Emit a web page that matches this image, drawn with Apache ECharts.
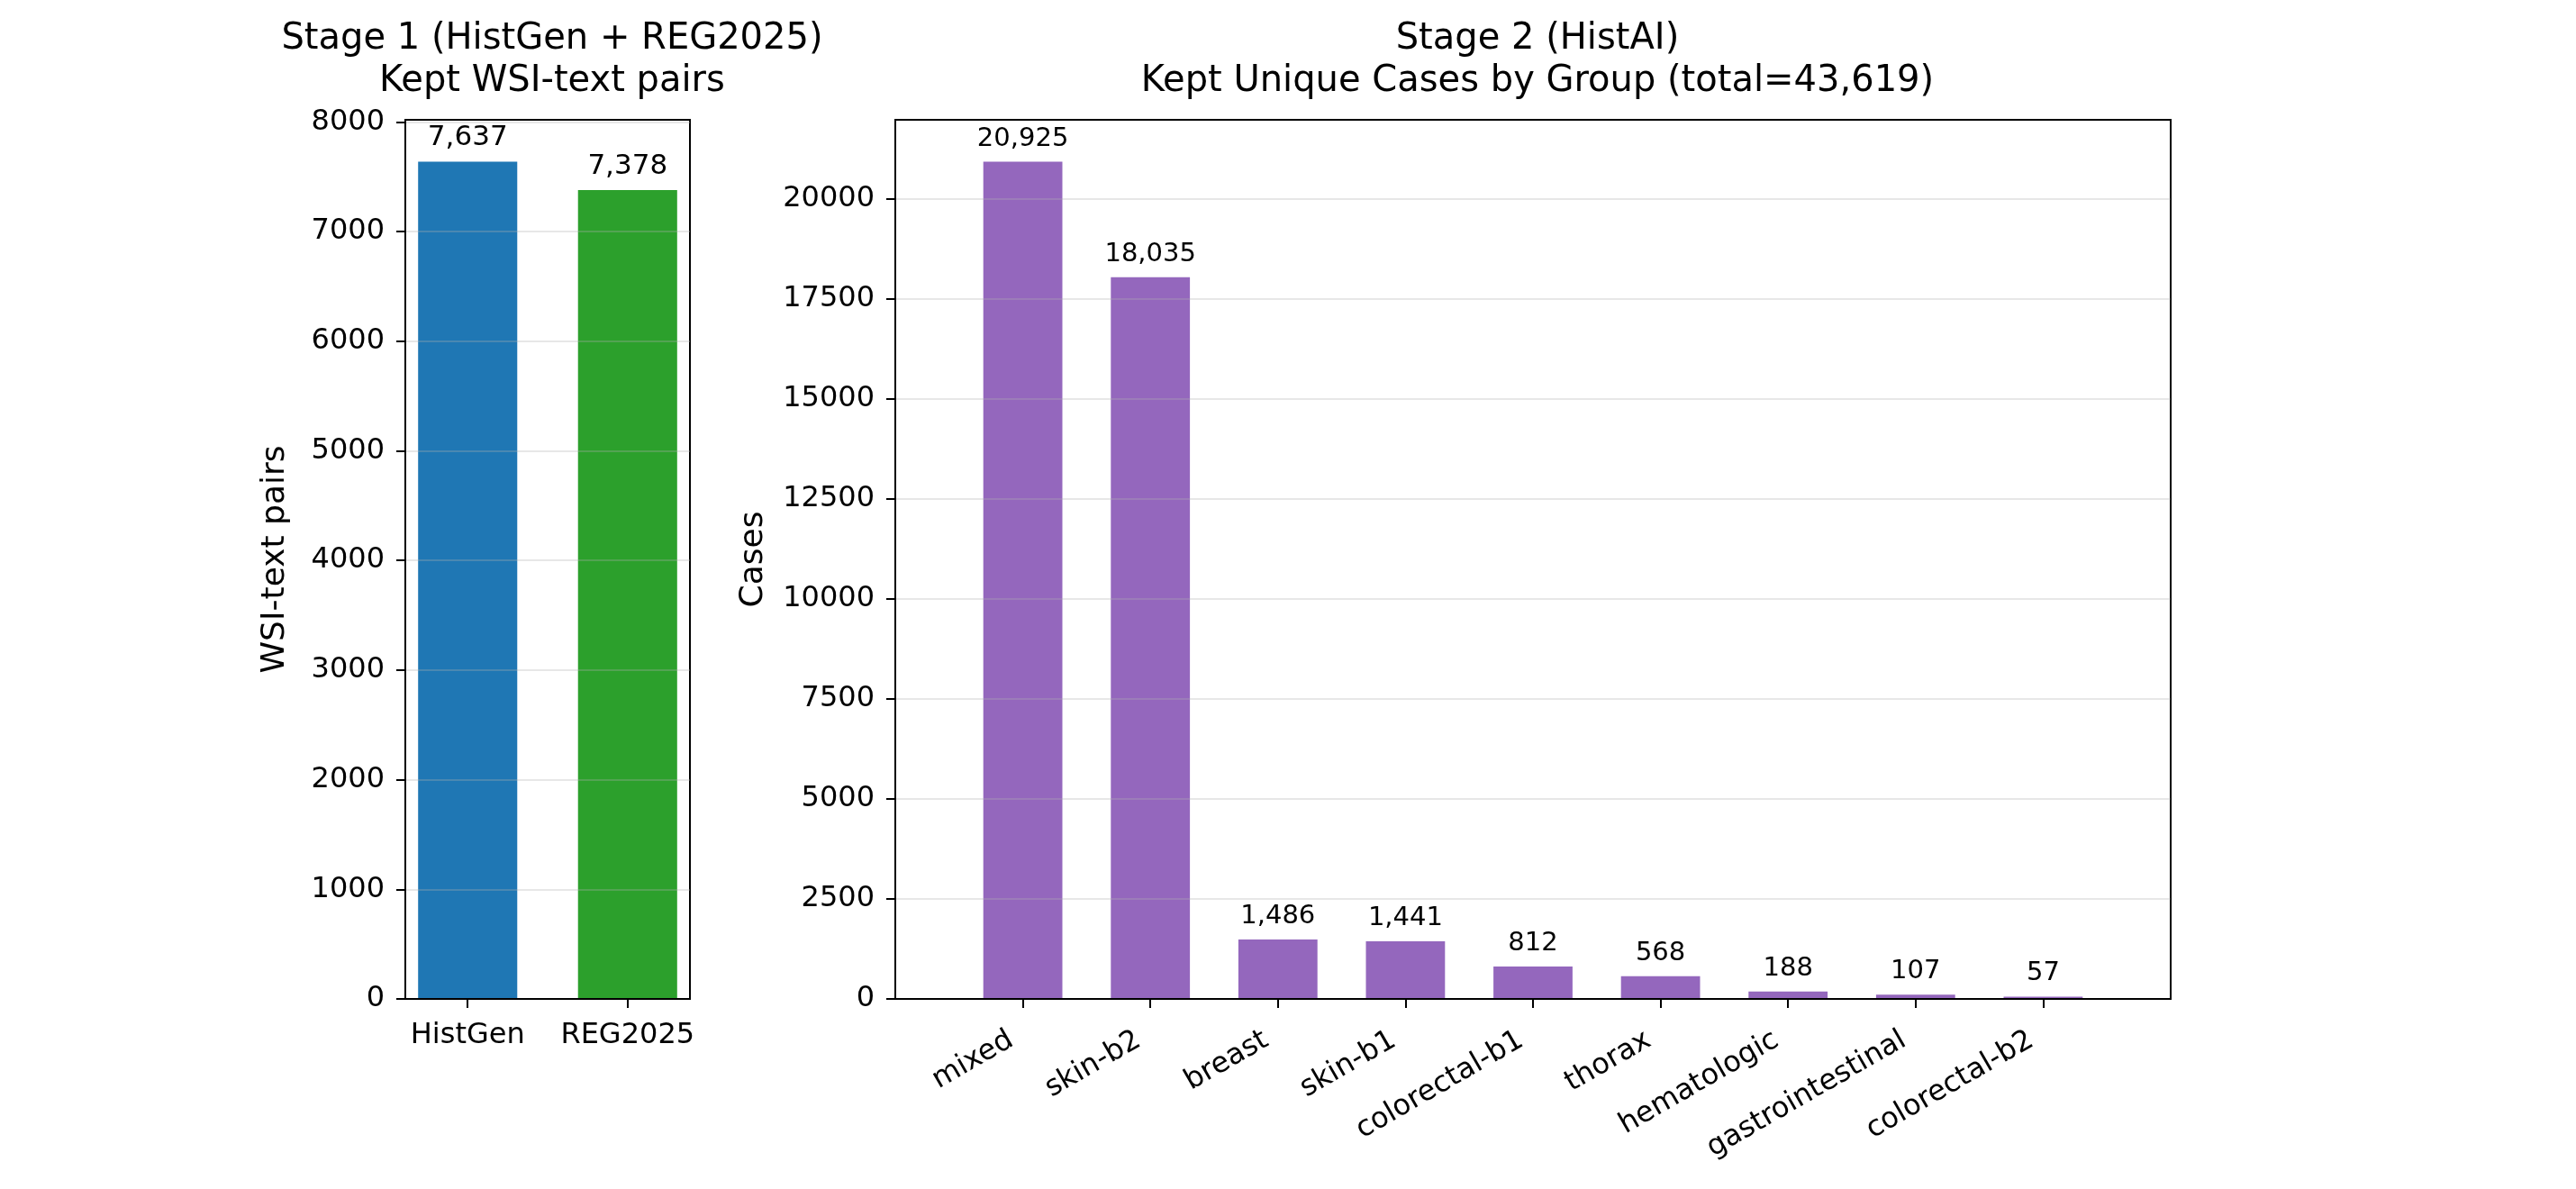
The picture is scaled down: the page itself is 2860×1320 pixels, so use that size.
<!DOCTYPE html>
<html>
<head>
<meta charset="utf-8">
<title>Stage 1 / Stage 2 kept data</title>
<script src="https://cdn.jsdelivr.net/npm/echarts@6/dist/echarts.min.js"></script>
<style>
  html, body { margin: 0; padding: 0; background: #fff; }
  #chart { width: 2860px; height: 1320px; }
</style>
</head>
<body>
<div id="chart"></div>
<script>
// Stage 1 (HistGen + REG2025): kept WSI-text pairs
const stage1Sources = ['HistGen', 'REG2025'];
const stage1Pairs = [7637, 7378];
const stage1Colors = ['#1f77b4', '#2ca02c'];
const stage1Ticks = [0, 1000, 2000, 3000, 4000, 5000, 6000, 7000, 8000];

// Stage 2 (HistAI): kept unique cases by group
const stage2Groups = ['mixed', 'skin-b2', 'breast', 'skin-b1', 'colorectal-b1', 'thorax', 'hematologic', 'gastrointestinal', 'colorectal-b2'];
const stage2Cases = [20925, 18035, 1486, 1441, 812, 568, 188, 107, 57];
const stage2Color = '#9467bd';
const stage2Ticks = [0, 2500, 5000, 7500, 10000, 12500, 15000, 17500, 20000];

const FONT = 'DejaVu Sans';
const BLACK = '#000';
const fmt = v => v.toLocaleString('en-US');
const positions = arr => arr.map((_, i) => i);
const total = stage2Cases.reduce((a, b) => a + b, 0);

const axisLineStyle = { color: BLACK, width: 2 };

// x axis: value axis so the bar spacing can follow matplotlib's limits
function xAxisFor(gridIndex, names, min, max, rotate, extra) {
  return {
    type: 'value',
    gridIndex: gridIndex,
    min: min,
    max: max,
    z: 4,
    axisLine: { show: true, onZero: false, lineStyle: axisLineStyle },
    axisTick: { show: true, customValues: positions(names), length: 10, lineStyle: axisLineStyle },
    axisLabel: Object.assign({
      customValues: positions(names),
      formatter: v => names[Math.round(v)] || '',
      rotate: rotate,
      fontSize: 32,
      color: BLACK,
      fontFamily: FONT
    }, extra),
    splitLine: { show: false }
  };
}

function yAxisFor(gridIndex, ticks, max, name, nameGap) {
  return {
    type: 'value',
    gridIndex: gridIndex,
    min: 0,
    max: max,
    z: 3,
    name: name,
    nameLocation: 'middle',
    nameGap: nameGap,
    nameTextStyle: { fontSize: 36, color: BLACK, fontFamily: FONT },
    axisLine: { show: true, onZero: false, lineStyle: axisLineStyle },
    axisTick: { show: true, customValues: ticks, length: 10, lineStyle: axisLineStyle },
    axisLabel: {
      customValues: ticks,
      formatter: v => String(v),
      margin: 23,
      fontSize: 32,
      color: BLACK,
      fontFamily: FONT
    },
    splitLine: { show: true, lineStyle: { color: 'rgba(176,176,176,0.3)', width: 2 } }
  };
}

function titleFor(text, centerX) {
  return {
    text: text,
    left: centerX,
    top: 15,
    textAlign: 'center',
    textStyle: { fontSize: 40, fontWeight: 'normal', lineHeight: 47, color: BLACK, fontFamily: FONT }
  };
}

const chart = echarts.init(document.getElementById('chart'));

const option = {
  animation: false,
  backgroundColor: '#fff',
  textStyle: { fontFamily: FONT },
  title: [
    titleFor('Stage 1 (HistGen + REG2025)\nKept WSI-text pairs', 608),
    titleFor('Stage 2 (HistAI)\nKept Unique Cases by Group (total=' + fmt(total) + ')', 1702)
  ],
  grid: [
    { left: 450, top: 133, width: 316, height: 976, show: true, borderColor: BLACK, borderWidth: 2, outerBoundsMode: 'none' },
    { left: 994, top: 133, width: 1416, height: 976, show: true, borderColor: BLACK, borderWidth: 2, outerBoundsMode: 'none' }
  ],
  xAxis: [
    xAxisFor(0, stage1Sources, -0.39, 1.39, 0, { margin: 25 }),
    xAxisFor(1, stage2Groups, -1, 9, 30, { margin: 36, padding: [0, 15, 0, 0] })
  ],
  yAxis: [
    yAxisFor(0, stage1Ticks, Math.max(...stage1Pairs) * 1.05, 'WSI-text pairs', 126),
    yAxisFor(1, stage2Ticks, Math.max(...stage2Cases) * 1.05, 'Cases', 139)
  ],
  series: [
    {
      type: 'bar',
      xAxisIndex: 0,
      yAxisIndex: 0,
      barWidth: '62%',
      data: stage1Pairs.map((v, i) => ({ value: [i, v], itemStyle: { color: stage1Colors[i] } })),
      label: {
        show: true,
        position: 'top',
        distance: 11,
        fontSize: 31,
        color: BLACK,
        fontFamily: FONT,
        formatter: p => fmt(p.value[1])
      }
    },
    {
      type: 'bar',
      xAxisIndex: 1,
      yAxisIndex: 1,
      barWidth: '62%',
      itemStyle: { color: stage2Color },
      data: stage2Cases.map((v, i) => [i, v]),
      label: {
        show: true,
        position: 'top',
        distance: 11,
        fontSize: 29,
        color: BLACK,
        fontFamily: FONT,
        formatter: p => fmt(p.value[1])
      }
    }
  ]
};

chart.setOption(option);

window.addEventListener('resize', function() {
  chart.resize();
});
</script>
</body>
</html>
